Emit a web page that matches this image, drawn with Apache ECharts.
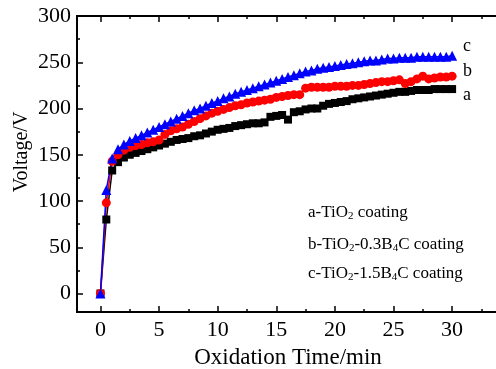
<!DOCTYPE html>
<html>
<head>
<meta charset="utf-8">
<script src="https://cdn.jsdelivr.net/npm/echarts@6/dist/echarts.min.js"></script>
<style>
  html, body { margin: 0; padding: 0; background: #fff; }
  #chart { width: 496px; height: 369px; }
</style>
</head>
<body>
<div id="chart"></div>
<script>
// oxidation time (min), one reading every 0.5 min
const times = [
  0, 0.5, 1, 1.5, 2, 2.5, 3, 3.5, 4, 4.5, 5, 5.5, 6, 6.5, 7, 7.5, 8, 8.5, 9, 9.5,
  10, 10.5, 11, 11.5, 12, 12.5, 13, 13.5, 14, 14.5, 15, 15.5, 16, 16.5, 17, 17.5, 18, 18.5, 19, 19.5,
  20, 20.5, 21, 21.5, 22, 22.5, 23, 23.5, 24, 24.5, 25, 25.5, 26, 26.5, 27, 27.5, 28, 28.5, 29, 29.5, 30
];
// a - TiO2 coating
const voltA = [
  0, 80, 133, 142, 147, 150, 152, 154, 156, 158, 160, 162, 164, 166, 167, 168, 170, 171, 173, 175,
  177, 178, 179, 181, 182, 183, 184, 184, 185, 191, 192, 193, 188, 196, 197, 199, 200, 200, 203, 205,
  206, 207, 208, 210, 211, 212, 213, 214, 215, 216, 217, 218, 218, 219, 220, 220, 220, 221, 221, 221, 221
];
// b - TiO2-0.3B4C coating
const voltB = [
  0, 98, 143, 150, 155, 158, 160, 161, 163, 164, 166, 172, 176, 178, 180, 183, 186, 189, 192, 195,
  197, 199, 201, 203, 204, 206, 207, 208, 209, 210, 212, 213, 214, 215, 215, 222, 223, 223, 223, 223,
  224, 224, 224, 225, 225, 226, 227, 228, 229, 229, 230, 231, 227, 229, 232, 235, 232, 233, 234, 234, 235
];
// c - TiO2-1.5B4C coating
const voltC = [
  0, 112, 146, 156, 161, 165, 168, 171, 174, 177, 180, 183, 186, 189, 192, 195, 198, 200, 203, 206,
  208, 211, 213, 216, 218, 220, 222, 224, 226, 228, 230, 232, 234, 236, 238, 240, 241, 243, 244, 245,
  246, 247, 248, 249, 250, 251, 252, 252, 253, 254, 254, 255, 255, 255, 256, 256, 256, 256, 256, 256, 257
];
const xMajor = [0, 5, 10, 15, 20, 25, 30];
const xMinor = [2.5, 7.5, 12.5, 17.5, 22.5, 27.5, 32.5];
const yMajor = [0, 50, 100, 150, 200, 250, 300];
const yMinor = [25, 75, 125, 175, 225, 275];

const font = "Liberation Serif";
const pair = (ys) => times.map((t, i) => [t, ys[i]]);

const ch = echarts.init(document.getElementById("chart"));

const xBase = (pos, ticks, len, labels) => ({
  type: "value",
  position: pos,
  min: -2,
  max: 34,
  axisLine: { show: true, onZero: false, lineStyle: { color: "#000", width: 2 } },
  axisTick: { show: true, inside: true, length: len, customValues: ticks, lineStyle: { color: "#000", width: 1.5 } },
  axisLabel: labels
    ? { show: true, customValues: labels, color: "#000", fontFamily: font, fontSize: 22, margin: 7 }
    : { show: false },
  splitLine: { show: false },
});
const yBase = (ticks, len, labels) => ({
  type: "value",
  position: "left",
  min: -20,
  max: 300,
  axisLine: { show: true, onZero: false, lineStyle: { color: "#000", width: 2 } },
  axisTick: { show: true, inside: true, length: len, customValues: ticks, lineStyle: { color: "#000", width: 1.5 } },
  axisLabel: labels
    ? { show: true, customValues: labels, color: "#000", fontFamily: font, fontSize: 22, margin: 6 }
    : { show: false },
  splitLine: { show: false },
});

const xAxes = [
  Object.assign(xBase("bottom", xMajor, 6, xMajor), {
    name: "Oxidation Time/min",
    nameLocation: "middle",
    nameGap: 34,
    nameTextStyle: { color: "#000", fontFamily: font, fontSize: 23 },
  }),
  xBase("bottom", xMinor, 3, null),
  xBase("top", xMajor, 6, null),
  xBase("top", xMinor, 3, null),
];
const yAxes = [yBase(yMajor, 6, yMajor), yBase(yMinor, 3, null)];

const line = (name, ys, color, symbol, size) => ({
  name,
  type: "line",
  data: pair(ys),
  symbol,
  symbolSize: size,
  showAllSymbol: true,
  lineStyle: { color, width: 1.5 },
  itemStyle: { color },
  animation: false,
});

const sub = { fontFamily: font, fontSize: 11, color: "#000", verticalAlign: "bottom", padding: [8, 0, 0, 0] };
const nrm = { fontFamily: font, fontSize: 17, color: "#000" };

ch.setOption({
  backgroundColor: "#fff",
  animation: false,
  grid: { left: 77, top: 16, right: -3, bottom: 57, containLabel: false, outerBoundsMode: "none" },
  xAxis: xAxes,
  yAxis: yAxes,
  series: [
    line("a", voltA, "#000000", "rect", 8),
    line("b", voltB, "#ff0000", "circle", 9),
    line("c", voltC, "#0000ff", "triangle", 10),
  ],
  graphic: [
    {
      type: "text", x: 22, y: 152, rotation: Math.PI / 2,
      style: { text: "Voltage/V", fontFamily: font, fontSize: 20, fill: "#000", align: "center", verticalAlign: "middle" },
    },
    { type: "text", left: 463, top: 37, style: { text: "c", fontFamily: font, fontSize: 18, fill: "#000" } },
    { type: "text", left: 463, top: 62, style: { text: "b", fontFamily: font, fontSize: 18, fill: "#000" } },
    { type: "text", left: 463, top: 86, style: { text: "a", fontFamily: font, fontSize: 18, fill: "#000" } },
    {
      type: "text", left: 308, top: 204,
      style: { text: "{n|a-TiO}{s|2}{n| coating}", rich: { n: nrm, s: sub } },
    },
    {
      type: "text", left: 308, top: 236,
      style: { text: "{n|b-TiO}{s|2}{n|-0.3B}{s|4}{n|C coating}", rich: { n: nrm, s: sub } },
    },
    {
      type: "text", left: 308, top: 265,
      style: { text: "{n|c-TiO}{s|2}{n|-1.5B}{s|4}{n|C coating}", rich: { n: nrm, s: sub } },
    },
  ],
});
</script>
</body>
</html>
